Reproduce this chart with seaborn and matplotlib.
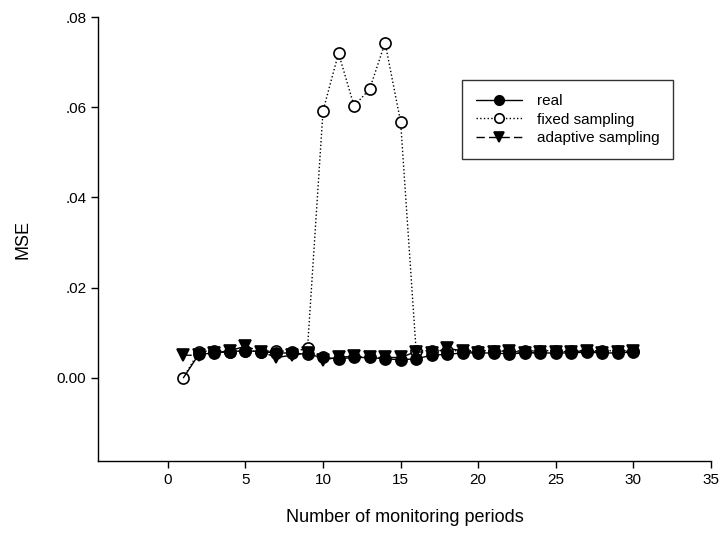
import numpy as np
import pandas as pd
import matplotlib
matplotlib.use("Agg")
import matplotlib.pyplot as plt
import seaborn as sns

periods = list(range(1, 31))
real = [0.0, 0.0052, 0.0055, 0.0058, 0.0060, 0.0058, 0.0055, 0.0055, 0.0052, 0.0045,
        0.0042, 0.0045, 0.0045, 0.0042, 0.0040, 0.0042, 0.0050, 0.0052, 0.0055, 0.0055,
        0.0055, 0.0053, 0.0055, 0.0055, 0.0055, 0.0055, 0.0057, 0.0055, 0.0055, 0.0057]
fixed = [0.0, 0.0058, 0.0060, 0.0058, 0.0060, 0.0058, 0.0060, 0.0058, 0.0065, 0.0592,
         0.0720, 0.0603, 0.0640, 0.0743, 0.0568, 0.0060, 0.0060, 0.0060, 0.0060, 0.0060,
         0.0060, 0.0060, 0.0060, 0.0060, 0.0060, 0.0060, 0.0060, 0.0060, 0.0060, 0.0060]
adaptive = [0.0050, 0.0050, 0.0055, 0.0060, 0.0070, 0.0058, 0.0045, 0.0050, 0.0055, 0.0040,
            0.0045, 0.0048, 0.0045, 0.0045, 0.0045, 0.0058, 0.0055, 0.0065, 0.0060, 0.0055,
            0.0058, 0.0060, 0.0055, 0.0058, 0.0058, 0.0058, 0.0060, 0.0055, 0.0057, 0.0060]
y_ticks = [0.0, 0.02, 0.04, 0.06, 0.08]
y_ticklabels = ["0.00", ".02", ".04", ".06", ".08"]
x_ticks = [0, 5, 10, 15, 20, 25, 30, 35]

sns.set_style("ticks")
plt.rcParams['font.family'] = ['Liberation Sans', 'DejaVu Sans']
plt.rcParams['text.color'] = 'black'
plt.rcParams['axes.labelcolor'] = 'black'

fig = plt.figure(figsize=(7.21, 5.35), dpi=100)
ax = fig.add_axes([0.136, 0.138, 0.850, 0.830])

styles = [
    ("real", real, "-", "o", "black", 3, list(range(1, len(periods)))),
    ("fixed sampling", fixed, ":", "o", "white", 2, None),
    ("adaptive sampling", adaptive, (0, (6, 3)), "v", "black", 2.5, None),
]
for label, vals, ls, mk, mfc, z, mev in styles:
    df = pd.DataFrame({"x": periods, "y": vals})
    sns.lineplot(data=df, x="x", y="y", ax=ax, color="black", linestyle=ls,
                 linewidth=1.0, marker=mk, markersize=8, markerfacecolor=mfc,
                 markeredgecolor="black", markeredgewidth=1.2, label=label,
                 zorder=z, markevery=mev)

ax.set_xlim(-4.5, 35)
ax.set_ylim(-0.0185, 0.08)
ax.set_xticks(x_ticks)
ax.set_yticks(y_ticks)
ax.set_yticklabels(y_ticklabels)
ax.tick_params(labelsize=11, direction="out", length=5, width=1, colors="black")
ax.set_xlabel("Number of monitoring periods", fontsize=13, labelpad=16)
ax.set_ylabel("MSE", fontsize=13, labelpad=18)
for s in ["top", "right"]:
    ax.spines[s].set_visible(False)
for s in ["left", "bottom"]:
    ax.spines[s].set_color("black")
    ax.spines[s].set_linewidth(1.0)

leg = ax.legend(loc="upper left", bbox_to_anchor=(0.594, 0.858), fontsize=11,
                frameon=True, fancybox=False, edgecolor="black", handlelength=3,
                borderpad=0.9, labelspacing=0.3, handletextpad=1.0, borderaxespad=0,
                markerscale=0.85)
leg.get_frame().set_linewidth(1.0)
for h in leg.legend_handles:
    try:
        h.set_markevery([1])
    except Exception:
        pass

fig.savefig("out.png", dpi=100)
